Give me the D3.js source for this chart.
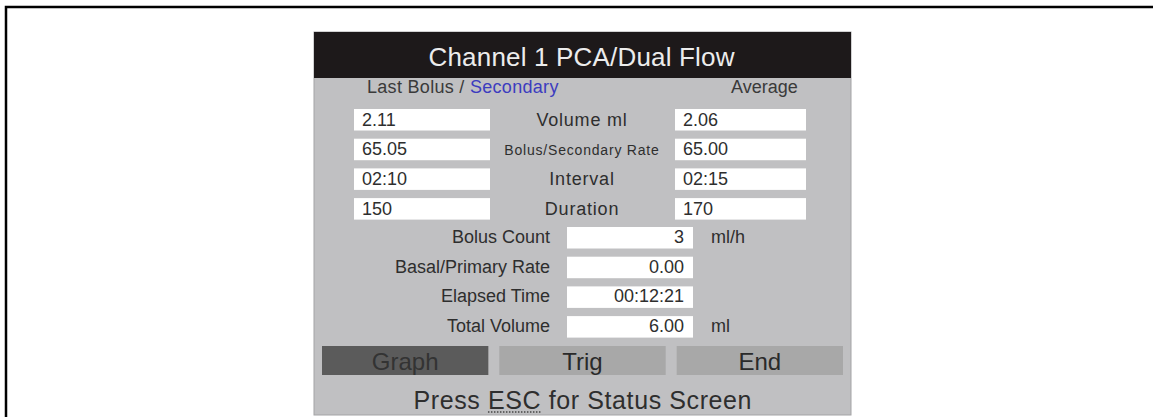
<!DOCTYPE html>
<html lang='en'>
<head>
    <meta charset='UTF-8'>
    <title>Channel 1 PCA/Dual Flow</title>
    <style>
        body { margin: 0; background: #fff; }
        svg { display: block; font-family: 'Liberation Sans', Arial, sans-serif; }
    </style>
</head>
<body>
    <div id='anchor'></div>
    <script src='https://cdnjs.cloudflare.com/ajax/libs/d3/7.8.5/d3.min.js'></script>
    <script>
        // screen contents
        const title = 'Channel 1 PCA/Dual Flow';
        const topLabels = ['Volume ml', 'Bolus/Secondary Rate', 'Interval', 'Duration'];
        const lastBolus = ['2.11', '65.05', '02:10', '150'];
        const average = ['2.06', '65.00', '02:15', '170'];
        const bottomLabels = ['Bolus Count', 'Basal/Primary Rate', 'Elapsed Time', 'Total Volume'];
        const bottomValues = ['3', '0.00', '00:12:21', '6.00'];
        const bottomUnits = ['ml/h', '', '', 'ml'];
        const buttons = ['Graph', 'Trig', 'End'];
        const footer = 'Press ESC for Status Screen';

        const width = 1153, height = 417;
        const panel = { x0: 314, x1: 851, y0: 32, y1: 415 };
        const cx = (panel.x0 + panel.x1) / 2;
        const textColor = '#2e2e2e';

        const svg = d3.select('#anchor').append('svg')
            .attr('width', width)
            .attr('height', height);

        // outer frame (top + left only)
        svg.append('path')
            .attr('d', `M6,${height} V7 H${width}`)
            .attr('fill', 'none')
            .attr('stroke', '#000')
            .attr('stroke-width', 2.5);

        // panel
        svg.append('rect')
            .attr('x', panel.x0).attr('y', panel.y0)
            .attr('width', panel.x1 - panel.x0).attr('height', panel.y1 - panel.y0)
            .attr('fill', '#c0c0c2')
            .attr('stroke', '#a4a4a6');

        svg.append('rect')
            .attr('x', panel.x0).attr('y', panel.y0)
            .attr('width', panel.x1 - panel.x0).attr('height', 46)
            .attr('fill', '#1d191a');

        svg.append('text')
            .attr('x', cx - 1).attr('y', 66)
            .attr('text-anchor', 'middle')
            .attr('font-size', 26)
            .attr('textLength', 306)
            .attr('lengthAdjust', 'spacing')
            .attr('fill', '#ececec')
            .text(title);

        // column headers
        const hdr = svg.append('text')
            .attr('x', 367).attr('y', 93)
            .attr('font-size', 18)
            .attr('letter-spacing', 0.3)
            .attr('fill', '#3a3a3a');
        hdr.append('tspan').text('Last Bolus / ');
        hdr.append('tspan').attr('fill', '#3c3cbf').text('Secondary');

        svg.append('text')
            .attr('x', 731).attr('y', 93)
            .attr('font-size', 18)
            .attr('fill', '#3a3a3a')
            .text('Average');

        // top rows
        const yTop = d3.scaleBand()
            .domain(topLabels)
            .range([109, 219.6])
            .paddingInner(0.276)
            .paddingOuter(0);
        const xLeft = d3.scaleLinear().domain([0, 1]).range([354, 490]);
        const xRight = d3.scaleLinear().domain([0, 1]).range([675, 806]);

        const topRows = svg.append('g')
            .selectAll('g')
            .data(topLabels.map((label, i) => ({ label, left: lastBolus[i], right: average[i] })))
            .join('g')
            .attr('transform', d => `translate(0,${yTop(d.label)})`);

        topRows.append('rect')
            .attr('x', xLeft(0)).attr('width', xLeft(1) - xLeft(0))
            .attr('height', yTop.bandwidth())
            .attr('fill', '#fff');
        topRows.append('rect')
            .attr('x', xRight(0)).attr('width', xRight(1) - xRight(0))
            .attr('height', yTop.bandwidth())
            .attr('fill', '#fff');

        topRows.append('text')
            .attr('x', xLeft(0) + 8).attr('y', 16.5)
            .attr('font-size', 18)
            .attr('fill', textColor)
            .text(d => d.left);
        topRows.append('text')
            .attr('x', xRight(0) + 8).attr('y', 16.5)
            .attr('font-size', 18)
            .attr('fill', textColor)
            .text(d => d.right);
        topRows.append('text')
            .attr('x', 582).attr('y', 16.5)
            .attr('text-anchor', 'middle')
            .attr('font-size', d => d.label.length > 12 ? 14 : 18)
            .attr('letter-spacing', d => d.label.length > 12 ? 0.8 : 0.8)
            .attr('fill', textColor)
            .text(d => d.label);

        // bottom rows
        const yBot = d3.scaleBand()
            .domain(bottomLabels)
            .range([227, 337.6])
            .paddingInner(0.276)
            .paddingOuter(0);
        const xBox = d3.scaleLinear().domain([0, 1]).range([567, 693]);

        const botRows = svg.append('g')
            .selectAll('g')
            .data(bottomLabels.map((label, i) => ({ label, value: bottomValues[i], unit: bottomUnits[i] })))
            .join('g')
            .attr('transform', d => `translate(0,${yBot(d.label)})`);

        botRows.append('rect')
            .attr('x', xBox(0)).attr('width', xBox(1) - xBox(0))
            .attr('height', yBot.bandwidth())
            .attr('fill', '#fff');
        botRows.append('text')
            .attr('x', 550).attr('y', 16)
            .attr('text-anchor', 'end')
            .attr('font-size', 18)
            .attr('fill', textColor)
            .text(d => d.label);
        botRows.append('text')
            .attr('x', xBox(1) - 9).attr('y', 16)
            .attr('text-anchor', 'end')
            .attr('font-size', 18)
            .attr('fill', textColor)
            .text(d => d.value);
        botRows.append('text')
            .attr('x', 711).attr('y', 16)
            .attr('font-size', 18)
            .attr('fill', textColor)
            .text(d => d.unit);

        // soft keys
        const xBtn = d3.scaleBand()
            .domain(buttons)
            .range([322, 843])
            .paddingInner(0.062)
            .paddingOuter(0);

        const btn = svg.append('g')
            .selectAll('g')
            .data(buttons)
            .join('g')
            .attr('transform', d => `translate(${xBtn(d)},346)`);
        btn.append('rect')
            .attr('width', xBtn.bandwidth())
            .attr('height', 29)
            .attr('fill', (d, i) => i === 0 ? '#5b5b5b' : '#a8a8a8');
        btn.append('text')
            .attr('x', xBtn.bandwidth() / 2).attr('y', 24)
            .attr('text-anchor', 'middle')
            .attr('font-size', 24)
            .attr('fill', (d, i) => i === 0 ? '#333' : '#2a2a2a')
            .text(d => d);

        // footer
        const foot = svg.append('text')
            .attr('x', cx).attr('y', 409)
            .attr('text-anchor', 'middle')
            .attr('font-size', 25)
            .attr('textLength', 338)
            .attr('lengthAdjust', 'spacing')
            .attr('fill', textColor)
            .text(footer);

        const node = foot.node();
        const i0 = footer.indexOf('ESC');
        const ex0 = node.getStartPositionOfChar(i0).x;
        const ex1 = node.getEndPositionOfChar(i0 + 2).x;
        svg.append('line')
            .attr('x1', ex0).attr('x2', ex1)
            .attr('y1', 412).attr('y2', 412)
            .attr('stroke', '#444')
            .attr('stroke-width', 1.5)
            .attr('stroke-dasharray', '1.5,1.5');
    </script>
</body>
</html>
